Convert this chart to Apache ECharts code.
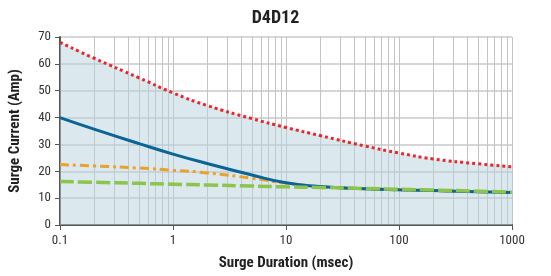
<!DOCTYPE html>
<html>
<head>
<meta charset="utf-8">
<script src="https://cdn.jsdelivr.net/npm/echarts@6/dist/echarts.min.js"></script>
<style>
  html, body { margin: 0; padding: 0; background: #fff; }
  #chart { width: 551px; height: 276px; }
</style>
</head>
<body>
<div id="chart"></div>
<script>
var FONT = '"Liberation Sans Narrow", "Roboto Condensed", "Liberation Sans", sans-serif'

// surge duration (msec)
var durations = [0.1, 0.2, 0.5, 1, 2, 5, 10, 20, 50, 100, 200, 500, 1000]
// surge current (Amp)
var redValues = [68, 62.1, 54.8, 49.2, 44.5, 39.6, 36.3, 33.3, 29.4, 26.8, 24.6, 22.8, 21.7]
var blueValues = [40, 35.7, 30.3, 26.4, 22.9, 18.6, 15.7, 14.3, 13.5, 13.1, 12.8, 12.4, 12.1]
var orangeValues = [22.5, 22, 21.2, 20.4, 19.4, 17.4, 15.6, 14.3, 13.5, 13.1, 12.8, 12.4, 12.1]
var greenValues = [16.2, 15.9, 15.5, 15.2, 14.9, 14.5, 14.2, 14, 13.6, 13.3, 13, 12.6, 12.2]
// minor vertical grid lines (2..9 of each decade)
var minorTicks = [0.2, 0.3, 0.4, 0.5, 0.6, 0.7, 0.8, 0.9, 2, 3, 4, 5, 6, 7, 8, 9,
  20, 30, 40, 50, 60, 70, 80, 90, 200, 300, 400, 500, 600, 700, 800, 900]

function pairs(vals) {
  return durations.map(function (d, i) { return [d, vals[i]] })
}

var chart = echarts.init(document.getElementById('chart'))
chart.setOption({
  animation: false,
  title: {
    text: 'D4D12',
    left: 'center',
    top: 4,
    textStyle: { fontFamily: FONT, fontWeight: 'bold', fontSize: 18, color: '#222' }
  },
  grid: { left: 53, right: 39, top: 37, bottom: 48 },
  xAxis: {
    type: 'log',
    logBase: 10,
    min: 0.1,
    max: 1000,
    name: 'Surge Duration (msec)',
    nameLocation: 'middle',
    nameGap: 31,
    nameTextStyle: { fontFamily: FONT, fontWeight: 'bold', fontSize: 15, color: '#222' },
    axisLine: { lineStyle: { color: '#555', width: 2 } },
    axisTick: { length: 5, lineStyle: { color: '#555' } },
    axisLabel: { fontFamily: FONT, fontSize: 13, color: '#333', margin: 9, formatter: function (v) { return String(v) } },
    splitLine: { show: true, lineStyle: { color: '#c4c4c4', width: 1 } },
    minorTick: { show: false },
    minorSplitLine: { show: false }
  },
  yAxis: {
    type: 'value',
    min: 0,
    max: 70,
    interval: 10,
    name: 'Surge Current (Amp)',
    nameLocation: 'middle',
    nameGap: 37,
    nameTextStyle: { fontFamily: FONT, fontWeight: 'bold', fontSize: 15, color: '#222' },
    axisLine: { show: true, lineStyle: { color: '#555', width: 2 } },
    axisTick: { show: true, length: 5, lineStyle: { color: '#555' } },
    axisLabel: { fontFamily: FONT, fontSize: 13, color: '#333', margin: 9 },
    splitLine: { lineStyle: { color: '#c8c8c8', width: 1.5 } }
  },
  series: [{
    type: 'line',
    data: [],
    silent: true,
    z: 0,
    markLine: {
      silent: true,
      z: 0,
      symbol: 'none',
      label: { show: false },
      lineStyle: { color: '#c4c4c4', type: 'solid', width: 1 },
      data: minorTicks.map(function (t) { return { xAxis: t } })
    }
  }, {
    name: 'red',
    type: 'line',
    data: pairs(redValues),
    smooth: true,
    symbol: 'none',
    lineStyle: { color: '#e8262d', width: 3, type: [3, 3] },
    areaStyle: { color: '#b8d2de', opacity: 0.5, origin: 'start' },
    z: 2
  }, {
    name: 'orange',
    type: 'line',
    data: pairs(orangeValues),
    smooth: true,
    symbol: 'none',
    lineStyle: { color: '#eba12c', width: 3, type: [9, 4, 3, 4] },
    z: 3
  }, {
    name: 'blue',
    type: 'line',
    data: pairs(blueValues),
    smooth: true,
    symbol: 'none',
    lineStyle: { color: '#0a6496', width: 3 },
    z: 4
  }, {
    name: 'green',
    type: 'line',
    data: pairs(greenValues),
    smooth: true,
    symbol: 'none',
    lineStyle: { color: '#8dc44e', width: 3.5, type: [14, 4] },
    z: 5
  }]
})
</script>
</body>
</html>
